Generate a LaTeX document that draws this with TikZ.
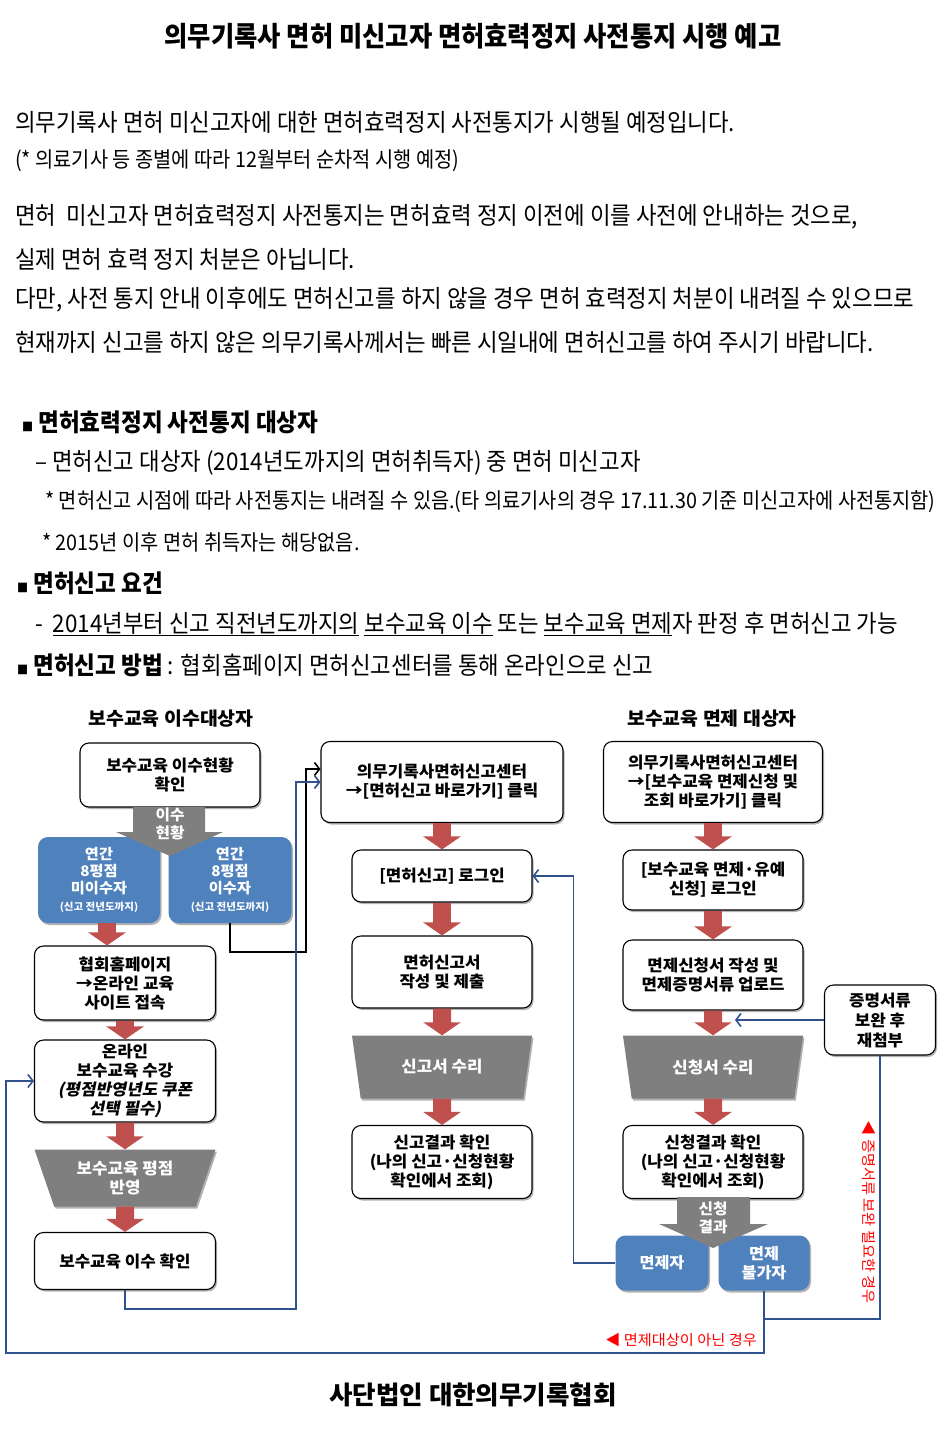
\documentclass[tikz,border=0pt]{standalone}
\usepackage{fontspec}
\setmainfont{Noto Sans CJK KR}
\newfontfamily\bodyfont[FakeStretch=0.92]{Noto Sans CJK KR}
\newfontfamily\boxfont[FakeStretch=1.05]{Noto Sans CJK KR}
\newfontfamily\slantfont[FakeSlant=0.2,FakeStretch=1.05]{Noto Sans CJK KR}
\usetikzlibrary{arrows.meta,shapes.geometric,shadows}
\definecolor{boxblue}{HTML}{4F81BD}
\definecolor{arrred}{HTML}{C0504D}
\definecolor{linkblue}{HTML}{2F528F}
\definecolor{shapegray}{HTML}{7F7F7F}
\newcommand\bulletsq{{\fontsize{12}{12}\selectfont ■}}
\begin{document}
\begin{tikzpicture}[x=1pt,y=-1pt,
  bodytext/.style={anchor=west,inner sep=0pt,font=\bodyfont\fontsize{24.3}{29}\selectfont},
  smalltext/.style={bodytext,font=\bodyfont\fontsize{21.5}{26}\selectfont},
  headtext/.style={bodytext,font=\bodyfont\bfseries\fontsize{24.5}{30}\selectfont},
  boxshadow/.style={drop shadow={shadow xshift=1.5pt,shadow yshift=-2pt,opacity=.3,fill=black}},
  wbox/.style={draw,line width=1.1pt,rounded corners=9pt,fill=white,boxshadow,align=center,inner sep=1pt,font=\boxfont\bfseries\fontsize{16}{19}\selectfont},
  bbox/.style={rounded corners=10pt,fill=boxblue,boxshadow,text=white,align=center,inner sep=1pt,font=\boxfont\bfseries\fontsize{14.5}{17}\selectfont},
  trap/.style={trapezium,shape border rotate=180,trapezium angle=60,trapezium stretches body,fill=shapegray,boxshadow,text=white,align=center,inner sep=0pt,minimum width=180pt,minimum height=63pt,font=\boxfont\bfseries\fontsize{16}{19}\selectfont},
  mergetext/.style={text=white,align=center,inner sep=0pt,font=\boxfont\bfseries\fontsize{15}{18}\selectfont},
  downarrow/.style={arrred,line width=18pt,-{Triangle[length=13pt,width=37pt]}},
  bluelink/.style={linkblue,line width=1.6pt,-{Straight Barb[length=5pt,width=13pt]}},
  blacklink/.style={bluelink,black},
  rednote/.style={red,inner sep=0pt,font=\boxfont\fontsize{14.5}{17}\selectfont}]
\path[fill=white,use as bounding box] (0,0) rectangle (945,1429);

% notice text
\node[headtext,anchor=center,font=\bodyfont\bfseries\fontsize{27.5}{32}\selectfont] (title) at (473,36) {의무기록사 면허 미신고자 면허효력정지 사전통지 시행 예고};
\node[bodytext] (p1) at (15,122) {의무기록사 면허 미신고자에 대한 면허효력정지 사전통지가 시행될 예정입니다.};
\node[smalltext] (p2) at (15,161) {(* 의료기사 등 종별에 따라 12월부터 순차적 시행 예정)};
\node[bodytext] (p3) at (15,217) {면허~ 미신고자 면허효력정지 사전통지는 면허효력 정지 이전에 이를 사전에 안내하는 것으로,};
\node[bodytext] (p4) at (15,259) {실제 면허 효력 정지 처분은 아닙니다.};
\node[bodytext] (p5) at (15,300) {다만, 사전 통지 안내 이후에도 면허신고를 하지 않을 경우 면허 효력정지 처분이 내려질 수 있으므로};
\node[bodytext] (p6) at (15,342) {현재까지 신고를 하지 않은 의무기록사께서는 빠른 시일내에 면허신고를 하여 주시기 바랍니다.};
\node[headtext] (h1) at (22,422) {\bulletsq\ 면허효력정지 사전통지 대상자};
\node[bodytext] (h1a) at (35,463) {– 면허신고 대상자 (2014년도까지의 면허취득자) 중 면허 미신고자};
\node[smalltext] (h1b) at (45,502) {* 면허신고 시점에 따라 사전통지는 내려질 수 있음.(타 의료기사의 경우 17.11.30 기준 미신고자에 사전통지함)};
\node[smalltext] (h1c) at (42,542) {* 2015년 이후 면허 취득자는 해당없음.};
\node[headtext] (h2) at (17,583) {\bulletsq\ 면허신고 요건};
\node[bodytext] (h2a) at (35,624) {-~ \underline{2014년부터 신고 직전년도까지의} \underline{보수교육 이수} 또는 \underline{보수교육 면제}자 판정 후 면허신고 가능};
\node[headtext] (h3) at (17,665) {\bulletsq\ 면허신고 방법{\mdseries\fontsize{24.3}{29}\selectfont\ : 협회홈페이지 면허신고센터를 통해 온라인으로 신고}};

% flow chart
\node[font=\boxfont\bfseries\fontsize{18.5}{22}\selectfont] (hl) at (171,719) {보수교육 이수대상자};
\node[font=\boxfont\bfseries\fontsize{18.5}{22}\selectfont] (hr) at (712,719) {보수교육 면제 대상자};

\node[wbox,minimum width=180pt,minimum height=64pt] (b1) at (170,775) {보수교육 이수현황\\확인};
\node[bbox,minimum width=122pt,minimum height=86pt] (L1) at (99,880) {연간\\8평점\\미이수자\\{\fontsize{10}{12}\selectfont(신고 전년도까지)}};
\node[bbox,minimum width=123pt,minimum height=86pt] (L2) at (230,880) {연간\\8평점\\이수자\\{\fontsize{10}{12}\selectfont(신고 전년도까지)}};
\fill[shapegray] (133,807) -- (205,807) -- (205,832) -- (223,832) -- (170,856) -- (116,832) -- (133,832) -- cycle;
\node[mergetext] (m1) at (170,824) {이수\\현황};
\node[wbox,minimum width=181pt,minimum height=74pt] (b2) at (125,983) {협회홈페이지\\→온라인 교육\\사이트 접속};
\node[wbox,minimum width=181pt,minimum height=82pt] (b3) at (125,1081) {온라인\\보수교육 수강\\{\slantfont\bfseries(평점반영년도 쿠폰}\\{\slantfont\bfseries 선택 필수)}};
\node[trap,minimum width=181pt,minimum height=57pt] (s1) at (125,1178) {보수교육 평점\\반영};
\node[wbox,minimum width=181pt,minimum height=57pt] (b4) at (125,1261) {보수교육 이수 확인};

\node[wbox,minimum width=242pt,minimum height=81pt] (c1) at (442,782) {의무기록사면허신고센터\\→[면허신고 바로가기] 클릭};
\node[wbox,minimum width=180pt,minimum height=52pt] (c2) at (442,876) {[면허신고] 로그인};
\node[wbox,minimum width=180pt,minimum height=72pt] (c3) at (442,972) {면허신고서\\작성 및 제출};
\node[trap] (s2) at (442,1067) {신고서 수리};
\node[wbox,minimum width=180pt,minimum height=73pt] (c4) at (442,1162) {신고결과 확인\\(나의 신고·신청현황\\확인에서 조회)};

\node[wbox,minimum width=219pt,minimum height=81pt] (r1) at (713,782) {의무기록사면허신고센터\\→[보수교육 면제신청 및\\조회 바로가기] 클릭};
\node[wbox,minimum width=180pt,minimum height=60pt] (r2) at (713,880) {[보수교육 면제·유예\\신청] 로그인};
\node[wbox,minimum width=180pt,minimum height=70pt] (r3) at (713,975) {면제신청서 작성 및\\면제증명서류 업로드};
\node[trap] (s3) at (713,1067) {신청서 수리};
\node[wbox,minimum width=180pt,minimum height=73pt] (r4) at (713,1162) {신청결과 확인\\(나의 신고·신청현황\\확인에서 조회)};
\node[bbox,minimum width=93pt,minimum height=55pt,font=\boxfont\bfseries\fontsize{15.5}{19}\selectfont] (r5) at (662,1263) {면제자};
\node[bbox,minimum width=91pt,minimum height=55pt,font=\boxfont\bfseries\fontsize{15.5}{19}\selectfont] (r6) at (764,1263) {면제\\불가자};
\fill[shapegray] (677,1197) -- (750,1197) -- (750,1224) -- (768,1224) -- (713,1248) -- (659,1224) -- (677,1224) -- cycle;
\node[mergetext] (m2) at (713,1218) {신청\\결과};
\node[wbox,minimum width=111pt,minimum height=70pt,font=\boxfont\bfseries\fontsize{16}{20}\selectfont] (pf) at (880,1020) {증명서류\\보완 후\\재첨부};

% red steps
\draw[downarrow] ([xshift=8pt]L1.south) -- ([xshift=-18pt]b2.north);
\draw[downarrow] (b2.south) -- (b3.north);
\draw[downarrow] (b3.south) -- (s1.north);
\draw[downarrow] (s1.south) -- (b4.north);
\draw[downarrow] (c1.south) -- (c2.north);
\draw[downarrow] (c2.south) -- (c3.north);
\draw[downarrow] (c3.south) -- (s2.north);
\draw[downarrow] (s2.south) -- (c4.north);
\draw[downarrow] (r1.south) -- (r2.north);
\draw[downarrow] (r2.south) -- (r3.north);
\draw[downarrow] (r3.south) -- (s3.north);
\draw[downarrow] (s3.south) -- (r4.north);

% links
\draw[blacklink] (L2.south) |- (306,952) |- ([yshift=13pt]c1.west);
\draw[bluelink] (b4.south) |- (296,1309) |- (c1.west);
\draw[bluelink] (r5.west) -| ([xshift=41pt]c2.east) -- (c2.east);
\draw[bluelink] (r6.south) |- (6,1353) |- (b3.west);
\draw[linkblue,line width=1.6pt] (r6.south) -- ++(0,28) -| (pf.south);
\draw[bluelink] (pf.west) -- ++(-89,0);
\node[rednote,anchor=east] (n1) at (757,1340) {◀ 면제대상이 아닌 경우};
\node[rednote,rotate=-90] (n2) at (869,1212) {◀ 증명서류 보완 필요한 경우};

\node[font=\bfseries\fontsize{25.5}{30}\selectfont] (foot) at (473,1395) {사단법인 대한의무기록협회};
\end{tikzpicture}
\end{document}
